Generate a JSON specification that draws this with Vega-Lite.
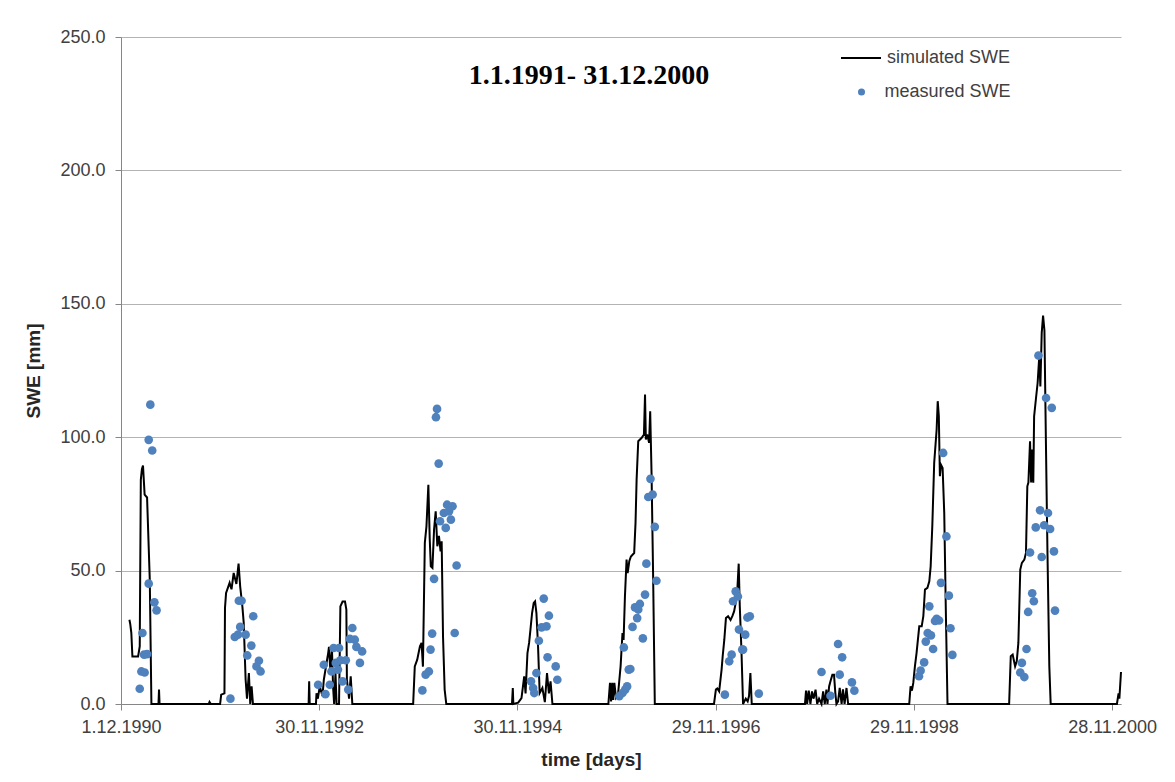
{
  "$schema": "https://vega.github.io/schema/vega-lite/v6.json",
  "width": 1000,
  "height": 667,
  "autosize": {"type": "none"},
  "padding": {"left": 121, "top": 37, "right": 54, "bottom": 78},
  "background": "white",
  "title": {
    "text": "1.1.1991- 31.12.2000",
    "font": "Liberation Serif",
    "fontSize": 28,
    "fontWeight": "bold",
    "color": "#000000",
    "anchor": "middle",
    "frame": "group",
    "orient": "top",
    "offset": 0,
    "baseline": "alphabetic",
    "dx": -32,
    "dy": 84
  },
  "datasets": {
    "sim": [
      {"date": "1991-01-01", "swe": 31.6}, {"date": "1991-01-04", "swe": 30}, {"date": "1991-01-08", "swe": 26.7}, {"date": "1991-01-12", "swe": 17.8},
      {"date": "1991-02-02", "swe": 17.8}, {"date": "1991-02-08", "swe": 21.6}, {"date": "1991-02-12", "swe": 84}, {"date": "1991-02-16", "swe": 88},
      {"date": "1991-02-20", "swe": 89.4}, {"date": "1991-02-26", "swe": 78.5}, {"date": "1991-03-07", "swe": 77.4}, {"date": "1991-03-17", "swe": 46.6},
      {"date": "1991-03-23", "swe": 0}, {"date": "1991-04-18", "swe": 0}, {"date": "1991-04-20", "swe": 5.4}, {"date": "1991-04-22", "swe": 0},
      {"date": "1991-10-20", "swe": 0}, {"date": "1991-10-23", "swe": 0.8}, {"date": "1991-10-28", "swe": 0}, {"date": "1991-12-01", "swe": 0},
      {"date": "1991-12-05", "swe": 3.5}, {"date": "1991-12-17", "swe": 4}, {"date": "1991-12-19", "swe": 36}, {"date": "1991-12-23", "swe": 41.6},
      {"date": "1992-01-05", "swe": 45.4}, {"date": "1992-01-12", "swe": 43}, {"date": "1992-01-20", "swe": 49.1}, {"date": "1992-01-30", "swe": 45},
      {"date": "1992-02-07", "swe": 52.6}, {"date": "1992-02-13", "swe": 44}, {"date": "1992-02-21", "swe": 36.6}, {"date": "1992-02-26", "swe": 30.4},
      {"date": "1992-03-04", "swe": 9.1}, {"date": "1992-03-09", "swe": 2}, {"date": "1992-03-16", "swe": 11.6}, {"date": "1992-03-21", "swe": 0},
      {"date": "1992-03-26", "swe": 6.6}, {"date": "1992-03-31", "swe": 0}, {"date": "1992-10-22", "swe": 0}, {"date": "1992-10-24", "swe": 8.5},
      {"date": "1992-10-26", "swe": 0}, {"date": "1992-11-18", "swe": 0}, {"date": "1992-11-20", "swe": 4}, {"date": "1992-11-25", "swe": 2},
      {"date": "1992-12-02", "swe": 6.6}, {"date": "1992-12-12", "swe": 3}, {"date": "1992-12-17", "swe": 9.1}, {"date": "1992-12-24", "swe": 13.5},
      {"date": "1993-01-02", "swe": 19.1}, {"date": "1993-01-05", "swe": 21.4}, {"date": "1993-01-10", "swe": 12.5}, {"date": "1993-01-16", "swe": 20.4},
      {"date": "1993-01-20", "swe": 6.6}, {"date": "1993-01-24", "swe": 0}, {"date": "1993-01-29", "swe": 11.5}, {"date": "1993-02-02", "swe": 0},
      {"date": "1993-02-11", "swe": 0}, {"date": "1993-02-16", "swe": 36.6}, {"date": "1993-02-24", "swe": 38.4}, {"date": "1993-03-05", "swe": 38.4},
      {"date": "1993-03-10", "swe": 35.4}, {"date": "1993-03-12", "swe": 9}, {"date": "1993-03-20", "swe": 2}, {"date": "1993-03-26", "swe": 10.4},
      {"date": "1993-04-01", "swe": 0}, {"date": "1993-11-11", "swe": 0}, {"date": "1993-11-17", "swe": 14.1}, {"date": "1993-11-26", "swe": 16.6},
      {"date": "1993-12-06", "swe": 21.6}, {"date": "1993-12-12", "swe": 22.9}, {"date": "1993-12-17", "swe": 14}, {"date": "1993-12-24", "swe": 60.4},
      {"date": "1993-12-30", "swe": 66.6}, {"date": "1994-01-06", "swe": 82.2}, {"date": "1994-01-11", "swe": 62}, {"date": "1994-01-15", "swe": 51.6},
      {"date": "1994-01-21", "swe": 51}, {"date": "1994-01-27", "swe": 65.4}, {"date": "1994-02-02", "swe": 72.2}, {"date": "1994-02-08", "swe": 59.1},
      {"date": "1994-02-14", "swe": 63}, {"date": "1994-02-20", "swe": 57.2}, {"date": "1994-02-24", "swe": 61}, {"date": "1994-03-01", "swe": 25.3},
      {"date": "1994-03-07", "swe": 5.4}, {"date": "1994-03-13", "swe": 0}, {"date": "1994-11-10", "swe": 0}, {"date": "1994-11-13", "swe": 6},
      {"date": "1994-11-15", "swe": 0}, {"date": "1994-12-03", "swe": 0.5}, {"date": "1994-12-15", "swe": 2.2}, {"date": "1994-12-25", "swe": 10.4},
      {"date": "1994-12-30", "swe": 4}, {"date": "1995-01-06", "swe": 19.1}, {"date": "1995-01-12", "swe": 22.9}, {"date": "1995-01-17", "swe": 27.9},
      {"date": "1995-01-23", "swe": 34.1}, {"date": "1995-01-29", "swe": 37.9}, {"date": "1995-02-03", "swe": 38.5}, {"date": "1995-02-08", "swe": 34.1},
      {"date": "1995-02-14", "swe": 21.6}, {"date": "1995-02-20", "swe": 4.1}, {"date": "1995-03-02", "swe": 6}, {"date": "1995-03-11", "swe": 0.7},
      {"date": "1995-03-19", "swe": 11.6}, {"date": "1995-03-26", "swe": 4}, {"date": "1995-04-01", "swe": 8.5}, {"date": "1995-04-08", "swe": 0},
      {"date": "1995-10-31", "swe": 0}, {"date": "1995-11-06", "swe": 7.9}, {"date": "1995-11-10", "swe": 1}, {"date": "1995-11-14", "swe": 7.9},
      {"date": "1995-11-18", "swe": 1.5}, {"date": "1995-11-22", "swe": 7.9}, {"date": "1995-11-28", "swe": 2.5}, {"date": "1995-12-06", "swe": 4.1},
      {"date": "1995-12-15", "swe": 14.1}, {"date": "1995-12-22", "swe": 26.6}, {"date": "1995-12-26", "swe": 24}, {"date": "1995-12-31", "swe": 40.3},
      {"date": "1996-01-06", "swe": 54.1}, {"date": "1996-01-10", "swe": 49.1}, {"date": "1996-01-16", "swe": 53.5}, {"date": "1996-01-22", "swe": 55.3},
      {"date": "1996-02-03", "swe": 56.6}, {"date": "1996-02-08", "swe": 67.9}, {"date": "1996-02-12", "swe": 84.1}, {"date": "1996-02-18", "swe": 98.5},
      {"date": "1996-03-01", "swe": 99.7}, {"date": "1996-03-10", "swe": 101}, {"date": "1996-03-14", "swe": 116}, {"date": "1996-03-17", "swe": 99.1},
      {"date": "1996-03-22", "swe": 101}, {"date": "1996-03-29", "swe": 97.9}, {"date": "1996-04-02", "swe": 109.7}, {"date": "1996-04-07", "swe": 86.6},
      {"date": "1996-04-13", "swe": 46.6}, {"date": "1996-04-19", "swe": 0}, {"date": "1996-11-23", "swe": 0}, {"date": "1996-11-30", "swe": 5.4},
      {"date": "1996-12-05", "swe": 5.8}, {"date": "1996-12-12", "swe": 4.7}, {"date": "1996-12-21", "swe": 12.9}, {"date": "1996-12-25", "swe": 17.9},
      {"date": "1996-12-31", "swe": 24.1}, {"date": "1997-01-06", "swe": 32.2}, {"date": "1997-01-14", "swe": 32.9}, {"date": "1997-01-23", "swe": 31.5},
      {"date": "1997-01-30", "swe": 33}, {"date": "1997-02-05", "swe": 34.7}, {"date": "1997-02-11", "swe": 37.9}, {"date": "1997-02-17", "swe": 42.9},
      {"date": "1997-02-22", "swe": 52.6}, {"date": "1997-02-26", "swe": 36.6}, {"date": "1997-03-04", "swe": 20.4}, {"date": "1997-03-10", "swe": 0},
      {"date": "1997-03-20", "swe": 2}, {"date": "1997-03-27", "swe": 1}, {"date": "1997-04-01", "swe": 3}, {"date": "1997-04-06", "swe": 11.6},
      {"date": "1997-04-11", "swe": 0}, {"date": "1997-10-24", "swe": 0}, {"date": "1997-10-28", "swe": 5}, {"date": "1997-11-01", "swe": 0},
      {"date": "1997-11-07", "swe": 5}, {"date": "1997-11-13", "swe": 0}, {"date": "1997-11-19", "swe": 4.7}, {"date": "1997-11-25", "swe": 2},
      {"date": "1997-12-02", "swe": 5.4}, {"date": "1997-12-08", "swe": 0}, {"date": "1997-12-15", "swe": 2}, {"date": "1997-12-24", "swe": 0},
      {"date": "1997-12-30", "swe": 4.7}, {"date": "1998-01-05", "swe": 0}, {"date": "1998-01-11", "swe": 5.4}, {"date": "1998-01-15", "swe": 0},
      {"date": "1998-01-21", "swe": 6.6}, {"date": "1998-01-26", "swe": 8.5}, {"date": "1998-02-02", "swe": 11}, {"date": "1998-02-08", "swe": 11},
      {"date": "1998-02-13", "swe": 4}, {"date": "1998-02-17", "swe": 0}, {"date": "1998-02-23", "swe": 1}, {"date": "1998-03-01", "swe": 6},
      {"date": "1998-03-08", "swe": 0}, {"date": "1998-03-13", "swe": 5.5}, {"date": "1998-03-19", "swe": 0}, {"date": "1998-03-26", "swe": 6},
      {"date": "1998-04-01", "swe": 0}, {"date": "1998-11-12", "swe": 0}, {"date": "1998-11-17", "swe": 6.6}, {"date": "1998-11-22", "swe": 5},
      {"date": "1998-11-27", "swe": 7.9}, {"date": "1998-12-03", "swe": 14.1}, {"date": "1998-12-09", "swe": 19.1}, {"date": "1998-12-19", "swe": 29.1},
      {"date": "1998-12-28", "swe": 29.1}, {"date": "1999-01-03", "swe": 32.9}, {"date": "1999-01-09", "swe": 42.9}, {"date": "1999-01-18", "swe": 43.5},
      {"date": "1999-01-25", "swe": 46}, {"date": "1999-01-30", "swe": 51.6}, {"date": "1999-02-05", "swe": 66.6}, {"date": "1999-02-12", "swe": 90.4},
      {"date": "1999-02-21", "swe": 102.9}, {"date": "1999-02-25", "swe": 113.5}, {"date": "1999-03-01", "swe": 108}, {"date": "1999-03-05", "swe": 85.4},
      {"date": "1999-03-09", "swe": 89.7}, {"date": "1999-03-15", "swe": 88.5}, {"date": "1999-03-21", "swe": 71.6}, {"date": "1999-03-27", "swe": 34.1},
      {"date": "1999-04-02", "swe": 0}, {"date": "1999-11-15", "swe": 0}, {"date": "1999-11-21", "swe": 17.9}, {"date": "1999-11-28", "swe": 18.5},
      {"date": "1999-12-07", "swe": 14.1}, {"date": "1999-12-13", "swe": 16}, {"date": "1999-12-19", "swe": 22.9}, {"date": "1999-12-26", "swe": 50.4},
      {"date": "2000-01-01", "swe": 52.9}, {"date": "2000-01-10", "swe": 54.1}, {"date": "2000-01-16", "swe": 56.6}, {"date": "2000-01-21", "swe": 81.6},
      {"date": "2000-01-25", "swe": 83}, {"date": "2000-01-31", "swe": 98.5}, {"date": "2000-02-04", "swe": 83}, {"date": "2000-02-08", "swe": 95.4},
      {"date": "2000-02-12", "swe": 82.9}, {"date": "2000-02-15", "swe": 107.8}, {"date": "2000-02-22", "swe": 114.7}, {"date": "2000-02-28", "swe": 120.4},
      {"date": "2000-03-05", "swe": 130.3}, {"date": "2000-03-09", "swe": 119}, {"date": "2000-03-14", "swe": 139.1}, {"date": "2000-03-19", "swe": 145.6},
      {"date": "2000-03-24", "swe": 140}, {"date": "2000-03-29", "swe": 101.6}, {"date": "2000-04-04", "swe": 57.9}, {"date": "2000-04-11", "swe": 14.1},
      {"date": "2000-04-16", "swe": 0}, {"date": "2000-12-16", "swe": 0}, {"date": "2000-12-22", "swe": 4}, {"date": "2000-12-25", "swe": 2},
      {"date": "2000-12-31", "swe": 12}
    ],
    "meas": [
      {"date": "1991-03-19", "swe": 112.2}, {"date": "1991-03-13", "swe": 99}, {"date": "1991-03-26", "swe": 95}, {"date": "1991-03-13", "swe": 45.1},
      {"date": "1991-04-03", "swe": 38.1}, {"date": "1991-04-11", "swe": 35.1}, {"date": "1991-02-18", "swe": 26.6}, {"date": "1991-02-24", "swe": 18.5},
      {"date": "1991-03-07", "swe": 18.7}, {"date": "1991-02-14", "swe": 12.2}, {"date": "1991-02-26", "swe": 11.8}, {"date": "1991-02-08", "swe": 5.7},
      {"date": "1992-01-08", "swe": 2}, {"date": "1992-02-08", "swe": 38.7}, {"date": "1992-02-18", "swe": 38.7}, {"date": "1992-04-01", "swe": 32.9},
      {"date": "1992-02-13", "swe": 28.9}, {"date": "1992-01-24", "swe": 25.1}, {"date": "1992-02-05", "swe": 26}, {"date": "1992-03-04", "swe": 26},
      {"date": "1992-03-25", "swe": 21.9}, {"date": "1992-03-10", "swe": 18.2}, {"date": "1992-04-22", "swe": 16.2}, {"date": "1992-04-13", "swe": 14.1},
      {"date": "1992-04-28", "swe": 12.2},
      {"date": "1992-11-26", "swe": 7.2}, {"date": "1992-12-23", "swe": 3.7}, {"date": "1993-01-08", "swe": 7.2}, {"date": "1992-12-17", "swe": 14.7},
      {"date": "1993-01-14", "swe": 12.2}, {"date": "1993-01-22", "swe": 21}, {"date": "1993-02-11", "swe": 21}, {"date": "1993-01-30", "swe": 15.4},
      {"date": "1993-02-16", "swe": 16.4}, {"date": "1993-03-08", "swe": 16.4}, {"date": "1993-02-07", "swe": 12.9}, {"date": "1993-02-24", "swe": 8.5},
      {"date": "1993-04-01", "swe": 28.5}, {"date": "1993-03-23", "swe": 24.4}, {"date": "1993-04-10", "swe": 24.1}, {"date": "1993-04-16", "swe": 21.4},
      {"date": "1993-05-07", "swe": 19.7}, {"date": "1993-04-29", "swe": 15.4}, {"date": "1993-03-17", "swe": 5.4},
      {"date": "1994-02-07", "swe": 110.6}, {"date": "1994-02-03", "swe": 107.5}, {"date": "1994-02-13", "swe": 90.1}, {"date": "1994-03-16", "swe": 74.7},
      {"date": "1994-04-05", "swe": 74.1}, {"date": "1994-03-04", "swe": 71.6}, {"date": "1994-03-23", "swe": 72.2}, {"date": "1994-02-18", "swe": 68.5},
      {"date": "1994-03-30", "swe": 69.1}, {"date": "1994-03-11", "swe": 66}, {"date": "1994-04-20", "swe": 51.9}, {"date": "1994-01-27", "swe": 46.9},
      {"date": "1994-01-20", "swe": 26.4}, {"date": "1994-04-13", "swe": 26.6}, {"date": "1994-01-14", "swe": 20.4}, {"date": "1994-01-08", "swe": 12.2},
      {"date": "1993-12-27", "swe": 11}, {"date": "1993-12-15", "swe": 5.1},
      {"date": "1995-03-07", "swe": 39.5}, {"date": "1995-03-26", "swe": 33.1}, {"date": "1995-02-27", "swe": 28.7}, {"date": "1995-03-17", "swe": 29.1},
      {"date": "1995-02-17", "swe": 23.7}, {"date": "1995-03-21", "swe": 17.5}, {"date": "1995-04-20", "swe": 14.1}, {"date": "1995-02-08", "swe": 11.6},
      {"date": "1995-04-26", "swe": 9.1}, {"date": "1995-01-19", "swe": 8.5}, {"date": "1995-01-27", "swe": 6}, {"date": "1995-01-31", "swe": 4.1},
      {"date": "1996-04-03", "swe": 84.4}, {"date": "1996-03-26", "swe": 77.6}, {"date": "1996-04-11", "swe": 78.5}, {"date": "1996-04-19", "swe": 66.4},
      {"date": "1996-03-19", "swe": 52.6}, {"date": "1996-04-25", "swe": 46.2}, {"date": "1996-03-14", "swe": 41}, {"date": "1996-02-06", "swe": 36.2},
      {"date": "1996-02-24", "swe": 37.5}, {"date": "1996-02-18", "swe": 35.4}, {"date": "1996-02-14", "swe": 32.2}, {"date": "1996-01-28", "swe": 28.9},
      {"date": "1996-03-06", "swe": 24.6}, {"date": "1995-12-27", "swe": 21.2}, {"date": "1996-01-20", "swe": 13.1}, {"date": "1996-01-14", "swe": 12.9},
      {"date": "1996-01-08", "swe": 6.6}, {"date": "1996-01-01", "swe": 5.4}, {"date": "1995-12-22", "swe": 4.1}, {"date": "1995-12-10", "swe": 2.9},
      {"date": "1997-02-11", "swe": 42.2}, {"date": "1997-02-19", "swe": 40.3}, {"date": "1997-02-01", "swe": 38.5}, {"date": "1997-03-26", "swe": 32.4},
      {"date": "1997-04-04", "swe": 32.9}, {"date": "1997-02-23", "swe": 27.9}, {"date": "1997-03-18", "swe": 26}, {"date": "1997-03-07", "swe": 20.4},
      {"date": "1997-03-10", "swe": 20.4}, {"date": "1997-01-27", "swe": 18.5}, {"date": "1997-01-18", "swe": 16}, {"date": "1997-01-02", "swe": 3.5},
      {"date": "1997-05-07", "swe": 3.9},
      {"date": "1998-02-23", "swe": 22.5}, {"date": "1998-03-10", "swe": 17.5}, {"date": "1997-12-24", "swe": 12}, {"date": "1998-03-01", "swe": 11},
      {"date": "1998-04-15", "swe": 8.1}, {"date": "1998-04-24", "swe": 5}, {"date": "1998-01-26", "swe": 3.1},
      {"date": "1999-03-17", "swe": 94.1}, {"date": "1999-03-29", "swe": 62.8}, {"date": "1999-03-09", "swe": 45.4}, {"date": "1999-04-07", "swe": 40.6},
      {"date": "1999-01-25", "swe": 36.6}, {"date": "1999-02-21", "swe": 31.9}, {"date": "1999-03-02", "swe": 31.3}, {"date": "1999-02-15", "swe": 31.1},
      {"date": "1999-04-13", "swe": 28.4}, {"date": "1999-01-19", "swe": 26.6}, {"date": "1999-01-31", "swe": 25.7}, {"date": "1999-01-12", "swe": 23.4},
      {"date": "1999-02-08", "swe": 20.6}, {"date": "1999-04-20", "swe": 18.4}, {"date": "1999-01-06", "swe": 15.6}, {"date": "1998-12-24", "swe": 12.5},
      {"date": "1998-12-18", "swe": 10.4},
      {"date": "2000-03-02", "swe": 130.6}, {"date": "2000-03-30", "swe": 114.7}, {"date": "2000-04-20", "swe": 111}, {"date": "2000-03-08", "swe": 72.6},
      {"date": "2000-04-06", "swe": 71.6}, {"date": "2000-02-21", "swe": 66.2}, {"date": "2000-03-23", "swe": 67}, {"date": "2000-04-14", "swe": 65.6},
      {"date": "2000-01-31", "swe": 56.8}, {"date": "2000-03-14", "swe": 55.1}, {"date": "2000-04-28", "swe": 57.2}, {"date": "2000-02-08", "swe": 41.5},
      {"date": "2000-02-14", "swe": 38.5}, {"date": "2000-01-24", "swe": 34.5}, {"date": "2000-05-02", "swe": 35}, {"date": "2000-01-18", "swe": 20.6},
      {"date": "2000-01-01", "swe": 15.4}, {"date": "1999-12-26", "swe": 11.8}, {"date": "2000-01-10", "swe": 10.1}
    ]
  },
  "encoding": {
    "x": {
      "field": "date",
      "type": "temporal",
      "scale": {
        "type": "utc",
        "domain": [
          {"year": 1990, "month": 12, "date": 1, "utc": true},
          {"year": 2000, "month": 12, "date": 31, "utc": true}
        ],
        "nice": false
      },
      "axis": {
        "title": "time [days]",
        "values": [
          {"year": 1990, "month": 12, "date": 1, "utc": true},
          {"year": 1992, "month": 11, "date": 30, "utc": true},
          {"year": 1994, "month": 11, "date": 30, "utc": true},
          {"year": 1996, "month": 11, "date": 29, "utc": true},
          {"year": 1998, "month": 11, "date": 29, "utc": true},
          {"year": 2000, "month": 11, "date": 28, "utc": true}
        ],
        "labelExpr": "utcFormat(datum.value, '%-d.%-m.%Y')",
        "grid": false,
        "labelFlush": false,
        "labelOverlap": false,
        "tickSize": 6,
        "labelPadding": 8,
        "titlePadding": 14,
        "titleX": 470
      }
    },
    "y": {
      "field": "swe",
      "type": "quantitative",
      "scale": {"domain": [0, 250], "nice": false},
      "axis": {
        "title": "SWE [mm]",
        "values": [0, 50, 100, 150, 200, 250],
        "format": ".1f",
        "grid": true,
        "tickSize": 6,
        "labelPadding": 10,
        "titlePadding": 16,
        "labelFlush": false
      }
    }
  },
  "layer": [
    {
      "data": {"name": "sim"},
      "mark": {"type": "line", "strokeWidth": 2, "interpolate": "linear"},
      "encoding": {
        "stroke": {
          "datum": "simulated SWE",
          "type": "nominal",
          "scale": {"range": ["#000000"]},
          "legend": {
            "orient": "none",
            "legendX": 719,
            "legendY": 0,
            "title": null,
            "padding": 0,
            "symbolType": "stroke",
            "symbolSize": 1600,
            "symbolStrokeWidth": 2,
            "labelOffset": 5,
            "labelFont": "Liberation Sans",
            "labelFontSize": 18,
            "labelColor": "#404040"
          }
        }
      }
    },
    {
      "data": {"name": "meas"},
      "mark": {"type": "circle", "size": 75, "opacity": 1, "strokeWidth": 0},
      "encoding": {
        "fill": {
          "datum": "measured SWE",
          "type": "nominal",
          "scale": {"range": ["#4f81bd"]},
          "legend": {
            "orient": "none",
            "legendX": 731.5,
            "legendY": 46,
            "title": null,
            "padding": 0,
            "symbolType": "circle",
            "symbolSize": 50,
            "symbolStrokeWidth": 0,
            "labelOffset": 14,
            "labelFont": "Liberation Sans",
            "labelFontSize": 18,
            "labelColor": "#404040"
          }
        }
      }
    }
  ],
  "config": {
    "view": {"stroke": null},
    "axis": {
      "domainColor": "#868686",
      "tickColor": "#868686",
      "gridColor": "#b3b3b3",
      "labelFont": "Liberation Sans",
      "labelFontSize": 18,
      "labelColor": "#404040",
      "titleFont": "Liberation Sans",
      "titleFontSize": 19,
      "titleFontWeight": "bold",
      "titleColor": "#262626"
    }
  }
}
